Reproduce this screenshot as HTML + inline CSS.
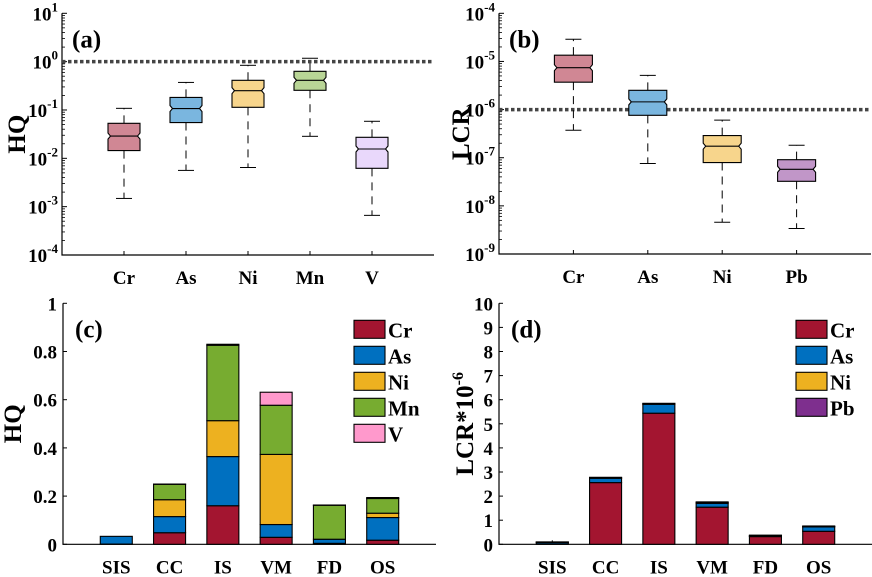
<!DOCTYPE html>
<html><head><meta charset="utf-8"><style>
html,body{margin:0;padding:0;background:#fff}
svg{display:block}
svg text{font-family:"Liberation Serif","Times New Roman","DejaVu Serif","Noto Serif CJK SC",serif;font-weight:bold}
</style></head><body>
<svg id="c" width="872" height="577" xmlns="http://www.w3.org/2000/svg"></svg>
<script>
// Panel (a) HQ boxplots, log10 values: [lowerWhisker, q1, median, q3, upperWhisker]
const aCats = ['Cr','As','Ni','Mn','V'];
const aStats = [
  [-2.83,-1.84,-1.54,-1.276,-0.966],
  [-2.25,-1.26,-0.97,-0.74,-0.43],
  [-2.19,-0.945,-0.60,-0.386,-0.076],
  [-1.545,-0.593,-0.386,-0.20,0.07],
  [-3.18,-2.207,-1.807,-1.566,-1.234]
];
const aTicks = [1,0,-1,-2,-3,-4];
// Panel (b) LCR boxplots
const bCats = ['Cr','As','Ni','Pb'];
const bStats = [
  [-6.43,-5.43,-5.13,-4.87,-4.54],
  [-7.12,-6.12,-5.84,-5.60,-5.29],
  [-8.34,-7.10,-6.76,-6.54,-6.22],
  [-8.47,-7.49,-7.24,-7.04,-6.74]
];
const bTicks = [-4,-5,-6,-7,-8,-9];
// Panel (c) stacked HQ
const sites = ['SIS','CC','IS','VM','FD','OS'];
const cCr = [0.001,0.048,0.16,0.029,0.004,0.017];
const cAs = [0.032,0.067,0.204,0.053,0.017,0.094];
const cNi = [0,0.07,0.149,0.291,0,0.018];
const cMn = [0,0.064,0.313,0.204,0.141,0.061];
const cV  = [0,0.001,0.004,0.054,0.001,0.004];
const cTicks = ['0','0.2','0.4','0.6','0.8','1'];
// Panel (d) stacked LCR*1e-6
const dCr = [0.02,2.56,5.44,1.54,0.32,0.54];
const dAs = [0.06,0.18,0.37,0.16,0.02,0.18];
const dNi = [0.01,0.02,0.02,0.03,0.02,0.02];
const dPb = [0.01,0.02,0.02,0.03,0.02,0.02];
const dTicks = [0,1,2,3,4,5,6,7,8,9,10];

const NS='http://www.w3.org/2000/svg';
const svg=document.getElementById('c');
const TK=19;
function mk(tag,attrs,parent){const e=document.createElementNS(NS,tag);for(const k in attrs)e.setAttribute(k,attrs[k]);(parent||svg).appendChild(e);return e;}
function txt(x,y,s,size,anchor,parent){const t=mk('text',{x:x,y:y,'font-size':size,'text-anchor':anchor||'middle'},parent);t.textContent=s;return t;}
function pow10(x,y,exp,parent){const t=mk('text',{x:x,y:y,'font-size':TK,'text-anchor':'end'},parent);
  const a=document.createElementNS(NS,'tspan');a.textContent='10';t.appendChild(a);
  const b=document.createElementNS(NS,'tspan');b.setAttribute('dy','-9');b.setAttribute('font-size','13');b.textContent=String(exp);t.appendChild(b);
  return t;}

function boxPanel(name,cats,stats,ticks,x0,x1,yTop,yBot,bw,cols,ylab,ylabX,ref,letter){
  const g=mk('g',{});
  
  
  const lmax=ticks[0],lmin=ticks[ticks.length-1];
  const Y=v=>yTop+(lmax-v)/(lmax-lmin)*(yBot-yTop);
  const n=cats.length+1;
  const X=i=>x0+(i+1)*(x1-x0)/n;
  const ax=mk('path',{d:`M${x0},${yTop} V${yBot} H${x1}`,stroke:'#000','stroke-width':1.2,fill:'none'},g);
  
  
  for(const t of ticks){
    mk('line',{x1:x0,x2:x0+5,y1:Y(t),y2:Y(t),stroke:'#000'},g);
    const lb=pow10(x0-4,Y(t)+7,t,g);
    
    
    if(t>lmin){for(let m=2;m<10;m++){const yy=Y(t-1+Math.log10(m));mk('line',{x1:x0,x2:x0+3,y1:yy,y2:yy,stroke:'#000','stroke-width':0.8},g);}}
  }
  cats.forEach((c,i)=>{
    mk('line',{x1:X(i),x2:X(i),y1:yBot,y2:yBot-4,stroke:'#000'},g);
    const l=txt(X(i),yBot+29,c,TK,'middle',g);
    
    
  });
  const rl=mk('line',{x1:x0,x2:x1,y1:Y(ref),y2:Y(ref),stroke:'#444','stroke-width':3.5,'stroke-dasharray':'3.5 2.5'},g);
  
  
  stats.forEach((s,i)=>{
    const cx=X(i),l=cx-bw/2,r=cx+bw/2;
    const [lo,q1,md,q3,hi]=s.map(Y);
    const bg=mk('g',{},g);
    
    
    mk('line',{x1:cx,x2:cx,y1:q3,y2:hi,stroke:'#000','stroke-dasharray':'8 6'},bg);
    mk('line',{x1:cx,x2:cx,y1:q1,y2:lo,stroke:'#000','stroke-dasharray':'8 6'},bg);
    mk('line',{x1:cx-8,x2:cx+8,y1:hi,y2:hi,stroke:'#000'},bg);
    mk('line',{x1:cx-8,x2:cx+8,y1:lo,y2:lo,stroke:'#000'},bg);
    const nn=3,d=2.5;
    mk('polygon',{points:`${l},${q3} ${r},${q3} ${r},${md-nn} ${r-d},${md} ${r},${md+nn} ${r},${q1} ${l},${q1} ${l},${md+nn} ${l+d},${md} ${l},${md-nn}`,fill:cols[i],stroke:'#000','stroke-width':1.1},bg);
    mk('line',{x1:l+d,x2:r-d,y1:md,y2:md,stroke:'#000','stroke-width':1.1},bg);
  });
  const yl=txt(ylabX,(yTop+yBot)/2,ylab,25,'middle',g);
  yl.setAttribute('transform',`rotate(-90 ${ylabX} ${(yTop+yBot)/2})`);
  yl.setAttribute('dy','8');
  
  
  const pl=txt(x0+10,yTop+34,letter,25,'start',g);
  
  
}

boxPanel('panel-a-hq-boxplot',aCats,aStats,aTicks,62,434,13.3,255,32,['#d08794','#7ab6df','#f7d58c','#b9d596','#e9d8fb'],'HQ',17,0,'(a)');
boxPanel('panel-b-lcr-boxplot',bCats,bStats,bTicks,499,871,13.3,254,38,['#d08794','#7ab6df','#f7d58c','#c196c8'],'LCR',461,-6,'(b)');

function barPanel(name,series,names,cols,ticks,tickLabels,x0,x1,yTop,yBot,ylabX,ylab,letter,legX){
  const g=mk('g',{});
  
  
  const vmax=ticks[ticks.length-1];
  const Y=v=>yBot-v/vmax*(yBot-yTop);
  const n=sites.length+1;
  const X=i=>x0+(i+1)*(x1-x0)/n;
  const ax=mk('path',{d:`M${x0},${yTop} V${yBot} H${x1}`,stroke:'#000','stroke-width':1.2,fill:'none'},g);
  
  
  ticks.forEach((t,k)=>{
    mk('line',{x1:x0,x2:x0+4,y1:Y(t),y2:Y(t),stroke:'#000'},g);
    const lb=txt(x0-6,Y(t)+7,tickLabels[k],TK,'end',g);
    
    
  });
  sites.forEach((s,i)=>{
    mk('line',{x1:X(i),x2:X(i),y1:yBot,y2:yBot-4,stroke:'#000'},g);
    const l=txt(X(i),yBot+29,s,TK,'middle',g);
    
    
    let acc=0;
    series.forEach((ser,j)=>{
      const v=ser[i];
      const r=mk('rect',{x:X(i)-16,y:Y(acc+v),width:32,height:Math.max(0,Y(acc)-Y(acc+v)),fill:cols[j],stroke:'#000','stroke-width':1.1},g);
      
      
      acc+=v;
    });
  });
  const yl=mk('text',{x:ylabX,y:(yTop+yBot)/2,'font-size':25,'text-anchor':'middle',transform:`rotate(-90 ${ylabX} ${(yTop+yBot)/2})`,dy:8},g);
  
  
  if(ylab==='LCR'){const a=document.createElementNS(NS,'tspan');a.textContent='LCR*10';yl.appendChild(a);const b=document.createElementNS(NS,'tspan');b.setAttribute('dy','-10');b.setAttribute('font-size','16');b.textContent='-6';yl.appendChild(b);}
  else yl.textContent=ylab;
  const pl=txt(x0+12,yTop+34,letter,25,'start',g);
  
  
  names.forEach((nm,j)=>{
    const lg=mk('g',{},g);
    
    
    const yy=yTop+17+j*26;
    mk('rect',{x:legX,y:yy,width:31,height:18,fill:cols[j],stroke:'#000','stroke-width':1.1},lg);
    txt(legX+34,yy+17,nm,21,'start',lg);
  });
}
barPanel('panel-c-hq-stacked',[cCr,cAs,cNi,cMn,cV],['Cr','As','Ni','Mn','V'],['#a31530','#0070c0','#edb120','#77ac30','#ff99cc'],[0,0.2,0.4,0.6,0.8,1],cTicks,63,436,303.3,544.3,13,'HQ','(c)',354);
barPanel('panel-d-lcr-stacked',[dCr,dAs,dNi,dPb],['Cr','As','Ni','Pb'],['#a31530','#0070c0','#edb120','#7e2f8e'],dTicks,dTicks.map(String),499,872,303.3,544.3,465,'LCR','(d)',796);
</script>
</body></html>
